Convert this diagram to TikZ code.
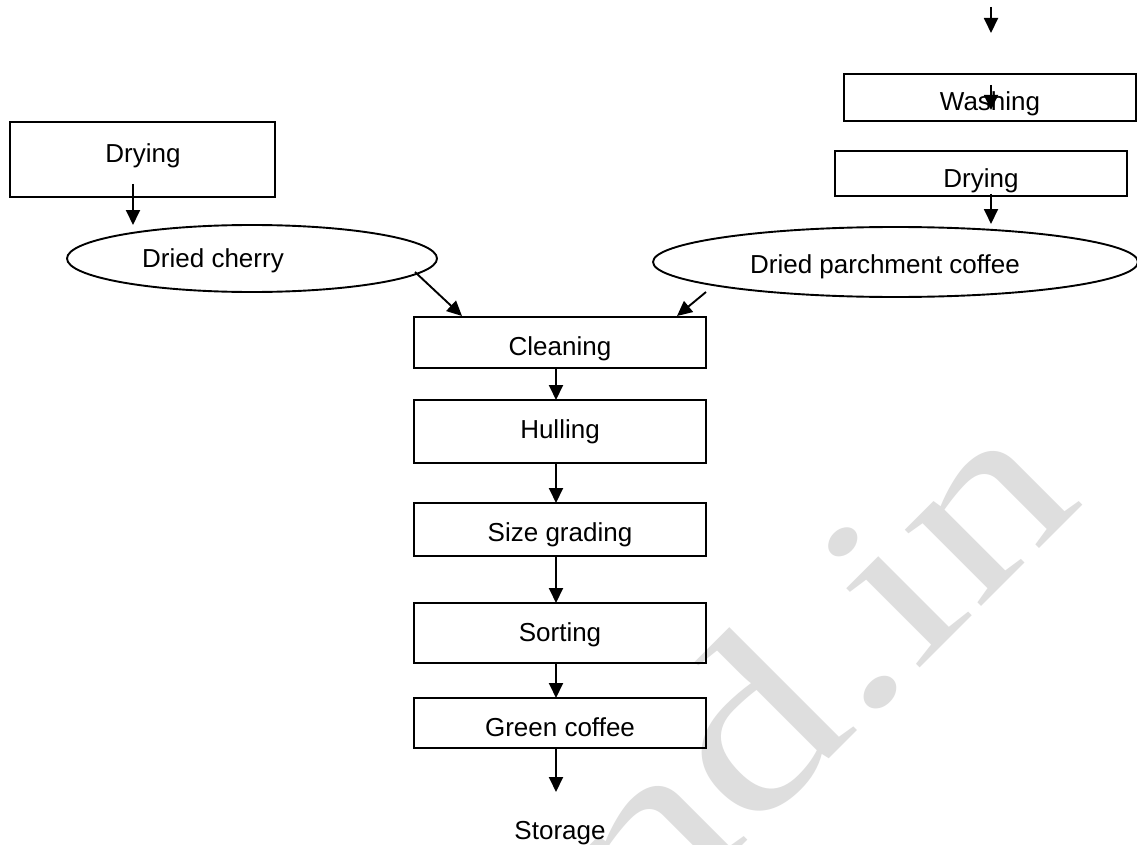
\documentclass[tikz,border=0pt]{standalone}
\usepackage{fontspec}
\setmainfont{Liberation Sans}
\newfontfamily\wmfont{Liberation Serif}
\usetikzlibrary{arrows.meta,shapes.geometric}
\begin{document}
\begin{tikzpicture}[x=1pt,y=-1pt,
  box/.style 2 args={draw,rectangle,line width=1.9pt,minimum width=#1,minimum height=#2,inner sep=0pt,outer sep=0pt},
  oval/.style 2 args={draw,ellipse,line width=1.9pt,minimum width=#1,minimum height=#2,inner sep=0pt,outer sep=0pt},
  txt/.style={anchor=base,inner sep=0pt,font=\fontsize{26}{31}\selectfont},
  arr/.style={line width=1.9pt,-{Triangle[length=15pt,width=14pt]}},
  wm/.style={text=black!13,font=\wmfont\fontsize{235}{235}\selectfont,rotate=45,xscale=1.32,anchor=base east,inner sep=0pt}
]
\useasboundingbox (0,0) rectangle (1137,845);
\clip (0,0) rectangle (1137,845);
\fill[white] (0,0) rectangle (1137,845);
% watermark
\node[wm] (wmark) at (1086,502) {nd.in};
% boxes
\node[box={265pt}{75pt}] (dryL) at (142.5,159.5) {};
\node[box={292pt}{47pt}] (wash) at (990,97.5) {};
\node[box={292pt}{45pt}] (dryR) at (981,173.5) {};
\node[box={292pt}{51pt}] (clean) at (560,342.5) {};
\node[box={292pt}{63pt}] (hull) at (560,431.5) {};
\node[box={292pt}{53pt}] (size) at (560,529.5) {};
\node[box={292pt}{60pt}] (sort) at (560,633) {};
\node[box={292pt}{50pt}] (green) at (560,723) {};
\node[oval={370pt}{67pt}] (cherry) at (252,258.5) {};
\node[oval={485pt}{70pt}] (parch) at (895.5,262) {};
% texts
\node[txt] (tdryL) at (143,163) {Drying};
\node[txt] (tcherry) at (213,267) {Dried cherry};
\node[txt] (twash) at (990,111) {Washing};
\node[txt] (tdryR) at (981,188) {Drying};
\node[txt] (tparch) at (885,273) {Dried parchment coffee};
\node[txt] (tclean) at (560,355) {Cleaning};
\node[txt] (thull) at (560,438) {Hulling};
\node[txt] (tsize) at (560,541) {Size grading};
\node[txt] (tsort) at (560,641) {Sorting};
\node[txt] (tgreen) at (560,736) {Green coffee};
\node[txt] (tstor) at (560,839) {Storage};
% connector end points
\coordinate (topS) at (991,7);
\coordinate (topE) at (991,33);
\coordinate (washS) at (991,85);
\coordinate (washE) at (991,110);
\coordinate (dryRS) at (991,194);
\coordinate (parchN) at (991,224);
\coordinate (dryLS) at (133,184);
\coordinate (cherryN) at (133,225);
\coordinate (cherryO) at (415,272);
\coordinate (cleanL) at (462,316);
\coordinate (parchO) at (706,292);
\coordinate (cleanR) at (677,316);
\coordinate (storIn) at (556,792);
% connectors
\draw[arr] (topS) -- (topE);
\draw[arr] (washS) -- (washE);
\draw[arr] (dryRS) -- (parchN);
\draw[arr] (dryLS) -- (cherryN);
\draw[arr] (cherryO) -- (cleanL);
\draw[arr] (parchO) -- (cleanR);
\draw[arr] ([xshift=-4pt]clean.south) -- ([xshift=-4pt]hull.north);
\draw[arr] ([xshift=-4pt]hull.south) -- ([xshift=-4pt]size.north);
\draw[arr] ([xshift=-4pt]size.south) -- ([xshift=-4pt]sort.north);
\draw[arr] ([xshift=-4pt]sort.south) -- ([xshift=-4pt]green.north);
\draw[arr] ([xshift=-4pt]green.south) -- (storIn);
\end{tikzpicture}
\end{document}
